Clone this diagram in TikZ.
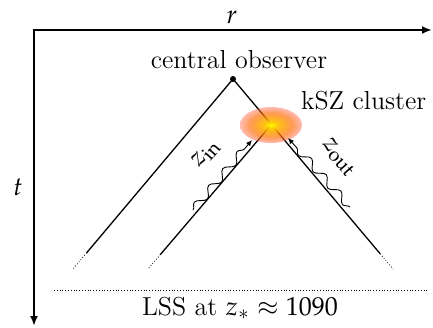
\documentclass[tikz,border=0pt]{standalone}
\usepackage{mathpazo}
\usepackage{tikz}
\usetikzlibrary{
    positioning,
    arrows.meta,
    calc,
    decorations.pathmorphing,
    fadings
}

\pgfdeclareradialshading{kszglow}{\pgfpointorigin}{%
    color(0bp)=(yellow); color(5bp)=(yellow!55!orange);
    color(17bp)=(orange!85!red); color(35bp)=(red!60!magenta!70);
    color(50bp)=(red!60!magenta!70)}
\pgfdeclareradialshading{kszfadeshade}{\pgfpointorigin}{%
    color(0bp)=(pgftransparent!0); color(5bp)=(pgftransparent!5);
    color(18bp)=(pgftransparent!35); color(29bp)=(pgftransparent!72);
    color(35bp)=(pgftransparent!100); color(50bp)=(pgftransparent!100)}
\pgfdeclarefading{kszfade}{\pgfuseshading{kszfadeshade}}

\begin{document}
\begin{tikzpicture}[
    x=0.5pt, y=-0.5pt,
    every node/.style={font=\fontsize{13}{16}\selectfont},
    axis/.style={{Latex[length=5pt,width=4pt]}-{Latex[length=5pt,width=4pt]}, line width=1pt},
    cone/.style={line width=0.65pt},
    fade/.style={line width=0.4pt, densely dotted},
    wave/.style={
        -{Latex[length=3pt,width=2.6pt]},
        line width=0.45pt,
        decorate,
        decoration={snake, amplitude=2pt, segment length=11pt, post length=2pt}
    },
    dot/.style={circle, fill, inner sep=0pt, minimum size=3pt}
]

\useasboundingbox (0,0) rectangle (433,327);

% axes
\coordinate (orig) at (34,30);
\coordinate (raxis) at (432,30);
\coordinate (taxis) at (34,326);
\draw[axis] (raxis) -- (orig) -- (taxis);
\node (rlbl) at (232,17) {$r$};
\node (tlbl) at (18,187) {$t$};

% observer and cones
\node[dot] (obs) at (233,79) {};
\node[above=0pt of obs, xshift=3pt] (obslbl) {central observer};
\coordinate (ksz) at (271,125);
\coordinate (lend) at (73,269);
\coordinate (iend) at (148,269);
\coordinate (rend) at (393,269);

\draw[cone] (obs.center) -- ($(obs.center)!0.915!(lend)$) coordinate (lcut);
\draw[fade] (lcut) -- (lend);
\draw[cone] (obs.center) -- ($(obs.center)!0.92!(rend)$) coordinate (rcut);
\draw[fade] (rcut) -- (rend);
\draw[cone] (ksz) -- ($(ksz)!0.9!(iend)$) coordinate (icut);
\draw[fade] (icut) -- (iend);

% cluster
\shade[shading=kszglow, path fading=kszfade] (ksz) ellipse [x radius=15.5pt, y radius=9pt];
\node[anchor=west] (kszlbl) at (294,101) {kSZ cluster};

% photons in and out
\coordinate (zinA) at (193,210);
\coordinate (zinB) at (252,140);
\coordinate (zoutA) at (350,207);
\coordinate (zoutB) at (288,138);
\draw[wave] (zinA) -- (zinB);
\draw[wave] (zoutA) -- (zoutB);
\node[rotate=49, inner sep=1pt] (zinlbl) at (206,154) {$z_{\rm in}$};
\node[rotate=-49, inner sep=1pt] (zoutlbl) at (339,157) {$z_{\rm out}$};

% last scattering
\coordinate (lssL) at (54,290);
\coordinate (lssR) at (427,290);
\draw[fade] (lssL) -- (lssR);
\node (lsslbl) at (240,308) {LSS at $z_*\approx 1090$};

\end{tikzpicture}
\end{document}
